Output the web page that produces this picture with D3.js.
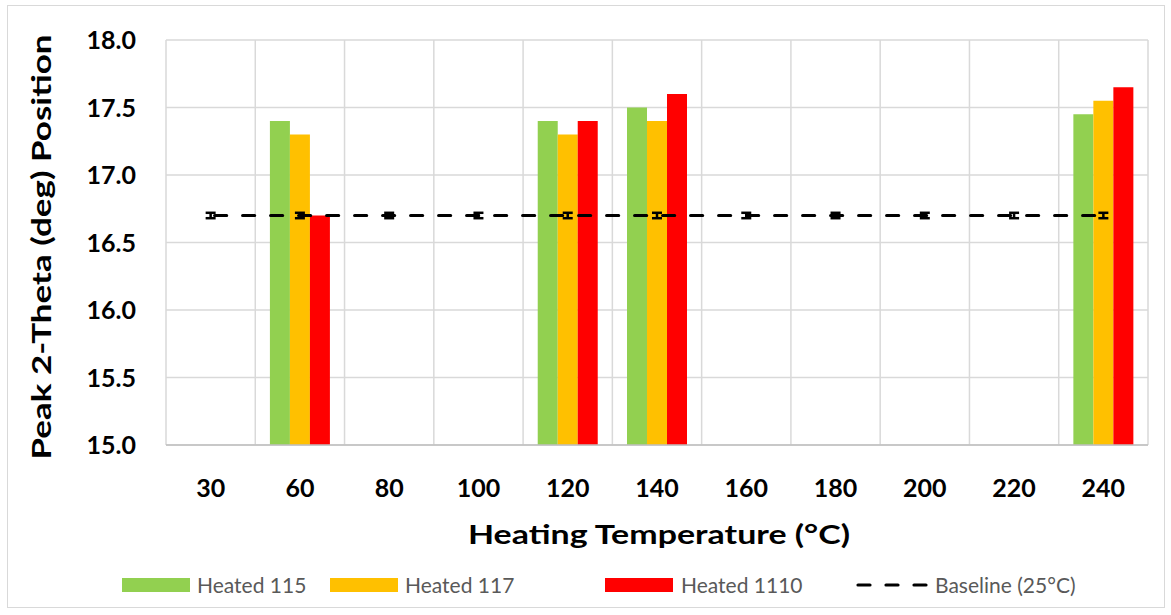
<!DOCTYPE html>
<html>
<head>
<meta charset="utf-8">
<script src="https://cdn.jsdelivr.net/npm/d3@7"></script>
<style>
  html, body { margin: 0; padding: 0; background: #fff; }
  svg { display: block; font-family: Lato, "Open Sans", sans-serif; }
</style>
</head>
<body>
<svg id="chart" width="1171" height="615"></svg>
<script>
const categories = ["30", "60", "80", "100", "120", "140", "160", "180", "200", "220", "240"];
const seriesNames = ["Heated 115", "Heated 117", "Heated 1110"];
const seriesColors = ["#92d050", "#ffc000", "#ff0000"];
const heated115 = [null, 17.4, null, null, 17.4, 17.5, null, null, null, null, 17.45];
const heated117 = [null, 17.3, null, null, 17.3, 17.4, null, null, null, null, 17.55];
const heated1110 = [null, 16.7, null, null, 17.4, 17.6, null, null, null, null, 17.65];
const baseline = [16.7, 16.7, 16.7, 16.7, 16.7, 16.7, 16.7, 16.7, 16.7, 16.7, 16.7];
const baselineErr = [0.02, 0.02, 0.02, 0.02, 0.02, 0.02, 0.02, 0.02, 0.02, 0.02, 0.02];
const yTicks = [15.0, 15.5, 16.0, 16.5, 17.0, 17.5, 18.0];
const baselineName = "Baseline (25°C)";
const xTitle = "Heating Temperature (°C)";
const yTitle = "Peak 2-Theta (deg) Position";

const series = [heated115, heated117, heated1110];
const svg = d3.select("#chart");

// outer frame
svg.append("rect").attr("x", 7.5).attr("y", 5.5).attr("width", 1157).attr("height", 602)
  .attr("fill", "#fff").attr("stroke", "#d9d9d9").attr("stroke-width", 1);

const L = 166, R = 1148, T = 40, B = 445;
const x = d3.scaleBand().domain(categories).range([L, R]).paddingInner(0).paddingOuter(0);
const y = d3.scaleLinear().domain([15, 18]).range([B, T]);
const groupW = 60;
const xs = d3.scaleBand().domain(d3.range(series.length)).range([0, groupW]).padding(0);

// horizontal gridlines
svg.append("g").selectAll("line").data(yTicks).join("line")
  .attr("x1", L).attr("x2", R).attr("y1", d => y(d)).attr("y2", d => y(d))
  .attr("stroke", "#d9d9d9").attr("stroke-width", 1.5);
// vertical gridlines
const vlines = categories.map(c => x(c)).concat([R]);
svg.append("g").selectAll("line").data(vlines).join("line")
  .attr("x1", d => d).attr("x2", d => d).attr("y1", T).attr("y2", B)
  .attr("stroke", "#d9d9d9").attr("stroke-width", 1.5);

// bars
series.forEach((vals, si) => {
  svg.append("g").selectAll("rect").data(vals.map((v, i) => ({ v, c: categories[i] })).filter(d => d.v != null))
    .join("rect")
    .attr("x", d => x(d.c) + x.bandwidth() / 2 - groupW / 2 + xs(si))
    .attr("width", xs.bandwidth())
    .attr("y", d => y(d.v))
    .attr("height", d => y(15) - y(d.v))
    .attr("fill", seriesColors[si]);
});

// x axis line
svg.append("line").attr("x1", L).attr("x2", R).attr("y1", B).attr("y2", B)
  .attr("stroke", "#bfbfbf").attr("stroke-width", 1.5);

// baseline dashed line
const cx = c => x(c) + x.bandwidth() / 2;
const line = d3.line().x((d, i) => cx(categories[i])).y(d => y(d));
svg.append("path").datum(baseline).attr("d", line)
  .attr("fill", "none").attr("stroke", "#000").attr("stroke-width", 3.2)
  .attr("stroke-dasharray", "12,16").attr("stroke-dashoffset", -4).attr("stroke-linecap", "round");
// error bars
const eb = svg.append("g");
baseline.forEach((v, i) => {
  const c = cx(categories[i]);
  const e = baselineErr[i];
  eb.append("line").attr("x1", c).attr("x2", c).attr("y1", y(v - e)).attr("y2", y(v + e))
    .attr("stroke", "#000").attr("stroke-width", 2.5);
  [v - e, v + e].forEach(t => eb.append("line").attr("x1", c - 5).attr("x2", c + 5)
    .attr("y1", y(t)).attr("y2", y(t)).attr("stroke", "#000").attr("stroke-width", 2.5));
});

// y tick labels
svg.append("g").selectAll("text").data(yTicks).join("text")
  .attr("x", 136).attr("y", d => y(d)).attr("dy", "0.36em")
  .attr("text-anchor", "end").attr("font-size", 25).attr("font-weight", "bold")
  .attr("fill", "#000").text(d => d.toFixed(1));

// x tick labels
svg.append("g").selectAll("text").data(categories).join("text")
  .attr("x", d => cx(d)).attr("y", 497)
  .attr("text-anchor", "middle").attr("font-size", 25).attr("font-weight", "bold")
  .attr("fill", "#000").text(d => d);

// axis titles
svg.append("text").attr("x", 659).attr("y", 544).attr("text-anchor", "middle")
  .attr("font-size", 26.5).attr("font-weight", "bold").attr("fill", "#000")
  .attr("textLength", 382).attr("lengthAdjust", "spacingAndGlyphs").text(xTitle);
svg.append("text").attr("transform", "translate(51,247) rotate(-90)").attr("text-anchor", "middle")
  .attr("font-size", 26.5).attr("font-weight", "bold").attr("fill", "#000")
  .attr("textLength", 425).attr("lengthAdjust", "spacingAndGlyphs").text(yTitle);

// legend
const legendItems = [
  { name: seriesNames[0], color: seriesColors[0], sx: 122, tx: 197 },
  { name: seriesNames[1], color: seriesColors[1], sx: 330, tx: 405 },
  { name: seriesNames[2], color: seriesColors[2], sx: 605, tx: 681 },
];
const lg = svg.append("g");
legendItems.forEach(it => {
  lg.append("rect").attr("x", it.sx).attr("y", 578).attr("width", 68).attr("height", 14).attr("fill", it.color);
  lg.append("text").attr("x", it.tx).attr("y", 593).attr("font-size", 21)
    .attr("fill", "#595959").text(it.name);
});
lg.append("line").attr("x1", 858).attr("x2", 928).attr("y1", 585).attr("y2", 585)
  .attr("stroke", "#000").attr("stroke-width", 3.2).attr("stroke-dasharray", "12,16").attr("stroke-linecap", "round");
lg.append("text").attr("x", 935).attr("y", 593).attr("font-size", 21)
  .attr("fill", "#595959").text(baselineName);
</script>
</body>
</html>
